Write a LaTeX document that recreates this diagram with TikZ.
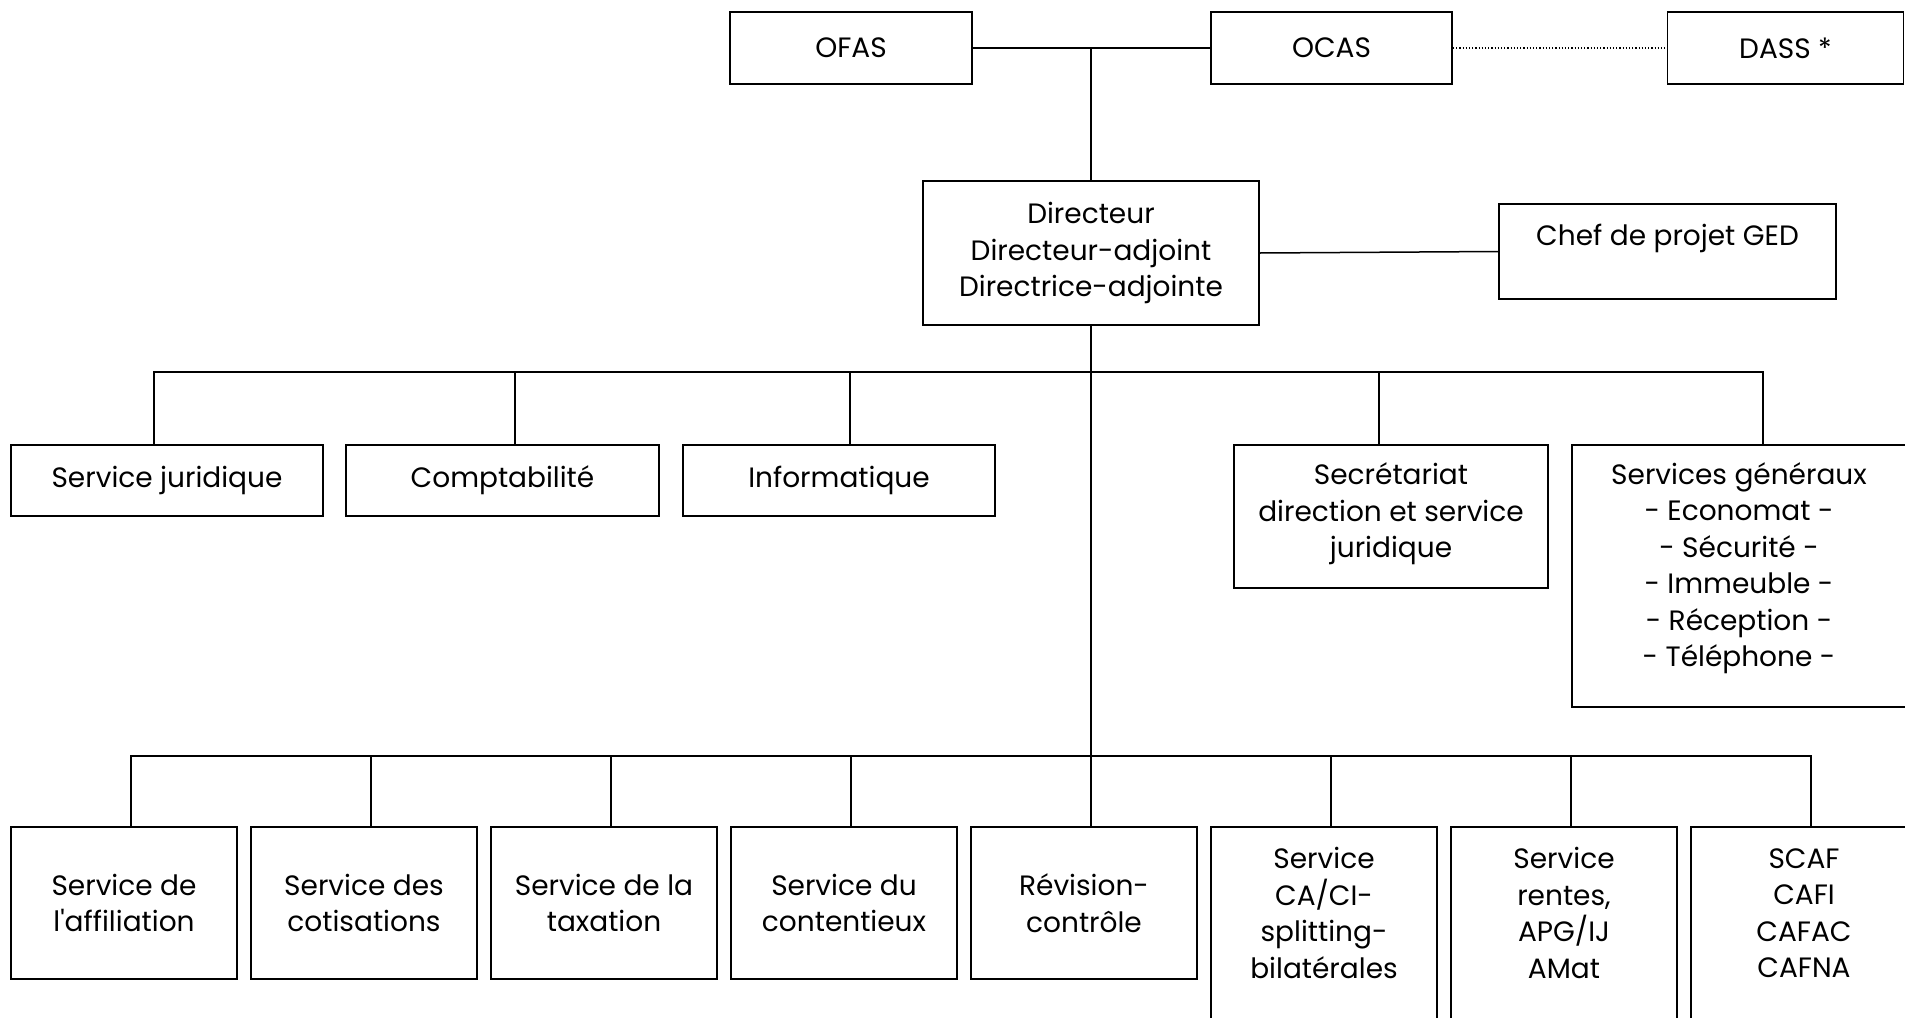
\documentclass[tikz,border=0pt]{standalone}
\usepackage{fontspec}
\setmainfont{Poppins}
\newcommand\orgfs{\fontsize{14}{18.25}\selectfont}
\begin{document}
\begin{tikzpicture}[x=0.5pt,y=-0.5pt,
  box/.style={draw, line width=0.9pt, rectangle, inner sep=0pt, font=\orgfs, align=center},
  sz/.style 2 args={minimum width=#1*0.5pt, minimum height=#2*0.5pt},
  txt/.style={inner sep=0pt, font=\orgfs, align=center},
  conn/.style={line width=0.75pt}]
\useasboundingbox (0,0) rectangle (1905,1017);
\clip (0,0) rectangle (1905,1017);
% top
\node[box, sz={242}{72}] (ofas) at (851,48) {OFAS};
\node[box, sz={241}{72}] (ocas) at (1331.5,48) {OCAS};
\node[box, sz={236}{72}] (dass) at (1785.5,48) {DASS *};
\node[box, sz={336}{144}] (dir) at (1091,253) {Directeur\\Directeur-adjoint\\Directrice-adjointe};
\node[box, sz={337}{95}] (chef) at (1667.5,251.5) {};
\node[txt] (chefT) at (1667.5,238) {Chef de projet GED};
% middle row
\node[box, sz={312}{71}] (sj) at (167,480.5) {Service juridique};
\node[box, sz={313}{71}] (compta) at (502.5,480.5) {Comptabilité};
\node[box, sz={312}{71}] (info) at (839,480.5) {Informatique};
\node[box, sz={314}{143}] (secr) at (1391,516.5) {};
\node[txt] (secrT) at (1391,514) {Secrétariat\\direction et service\\juridique};
\node[box, sz={345}{262}] (sg) at (1744.5,576) {};
\node[txt] (sgT) at (1739,568) {Services généraux\\- Economat -\\- Sécurité -\\- Immeuble -\\- Réception -\\- Téléphone -};
% bottom row
\node[box, sz={226}{152}] (b1) at (124,903) {Service de\\l\textquotesingle affiliation};
\node[box, sz={226}{152}] (b2) at (364,903) {Service des\\cotisations};
\node[box, sz={226}{152}] (b3) at (604,903) {Service de la\\taxation};
\node[box, sz={226}{152}] (b4) at (844,903) {Service du\\contentieux};
\node[box, sz={226}{152}] (b5) at (1084,903) {Révision-\\contrôle};
\node[box, sz={226}{220}] (b6) at (1324,937) {};
\node[txt] (b6T) at (1324,913) {Service\\CA/CI-\\splitting-\\bilatérales};
\node[box, sz={226}{220}] (b7) at (1564,937) {};
\node[txt] (b7T) at (1564,913) {Service\\rentes,\\APG/IJ\\AMat};
\node[box, sz={226}{220}] (b8) at (1804,937) {};
\node[txt] (b8T) at (1804,913) {SCAF\\CAFI\\CAFAC\\CAFNA};
% connectors
\draw[conn] (ofas.east) -- (ocas.west);
\draw[line width=0.6pt, densely dotted] (ocas.east) -- (dass.west);
\draw[conn] (dir.north) -- (dir.north |- ofas.east);
\draw[conn] (dir.east) -- (chef.west);
\coordinate (mbus) at (1091,372);
\coordinate (bbus) at (1091,756);
\draw[conn] (dir.south) -- ([xshift=3.5pt]b5.north);
\draw[conn] ([xshift=-6.5pt]sj.north) |- (mbus) -| ([xshift=9.25pt]sg.north);
\draw[conn] ([xshift=6.25pt]compta.north) -- ++(0,-73);
\draw[conn] ([xshift=5.5pt]info.north) -- ++(0,-73);
\draw[conn] ([xshift=-6pt]secr.north) -- ++(0,-73);
\draw[conn] ([xshift=3.5pt]b1.north) |- (bbus) -| ([xshift=3.5pt]b8.north);
\draw[conn] ([xshift=3.5pt]b2.north) -- ++(0,-71);
\draw[conn] ([xshift=3.5pt]b3.north) -- ++(0,-71);
\draw[conn] ([xshift=3.5pt]b4.north) -- ++(0,-71);
\draw[conn] ([xshift=3.5pt]b6.north) -- ++(0,-71);
\draw[conn] ([xshift=3.5pt]b7.north) -- ++(0,-71);
\end{tikzpicture}
\end{document}
